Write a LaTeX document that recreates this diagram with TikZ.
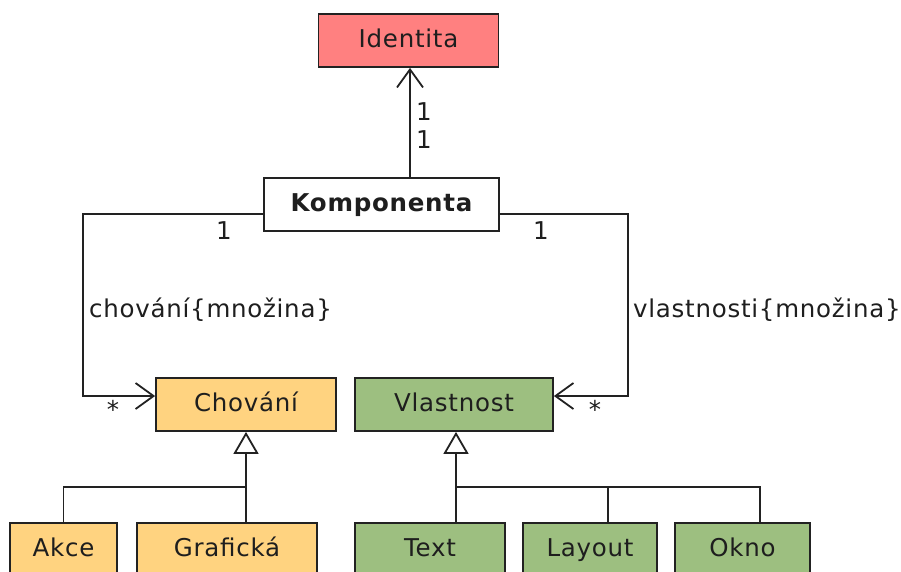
\documentclass[tikz,border=0pt]{standalone}
\usepackage{fontspec}
\setmainfont{DejaVu Sans}[LetterSpace=3]
\usetikzlibrary{arrows.meta}
\definecolor{identred}{RGB}{255,128,128}
\definecolor{chovorange}{RGB}{255,211,128}
\definecolor{vlgreen}{RGB}{157,191,128}
\definecolor{lineclr}{RGB}{34,34,34}
\definecolor{txtclr}{RGB}{30,30,30}
\tikzset{
  box/.style={draw=lineclr, line width=1.8pt, rectangle, inner sep=0pt, minimum height=53pt, text height=20pt, text depth=7pt, text=txtclr, font=\fontsize{24.5}{28}\selectfont},
  lbl/.style={inner sep=0pt, text=txtclr, font=\fontsize{24.5}{28}\selectfont},
  conn/.style={draw=lineclr, line width=1.8pt},
  assoc/.style={conn, -{Straight Barb[length=18pt, width=26pt, line width=1.8pt]}},
  gen/.style={conn, -{Triangle[open, length=22pt, width=25pt, fill=white, line width=1.8pt]}}
}
\begin{document}
\begin{tikzpicture}[x=1pt,y=-1pt]
\useasboundingbox[fill=white] (0,0) rectangle (901,571);
% classes
\node[box, fill=identred, minimum width=180pt] (identita) at (408.5,40.5) {Identita};
\node[box, fill=white, minimum width=235pt, font=\fontsize{24.5}{28}\selectfont\bfseries] (komp) at (381.5,204.5) {Komponenta};
\node[box, fill=chovorange, minimum width=180pt] (chovani) at (246,404.5) {Chování};
\node[box, fill=vlgreen, minimum width=198pt] (vlastnost) at (454,404.5) {Vlastnost};
\node[box, fill=chovorange, minimum width=107pt] (akce) at (63.5,549.5) {Akce};
\node[box, fill=chovorange, minimum width=180pt] (graficka) at (227,549.5) {Grafická};
\node[box, fill=vlgreen, minimum width=150pt] (text) at (430,549.5) {Text};
\node[box, fill=vlgreen, minimum width=134pt] (layout) at (590,549.5) {Layout};
\node[box, fill=vlgreen, minimum width=135pt] (okno) at (742.5,549.5) {Okno};
% Komponenta -> Identita
\draw[assoc] ([xshift=28.5pt]komp.north) -- ([xshift=28.5pt]komp.north |- identita.south);
\node[lbl] (m1) at (424,112) {1};
\node[lbl] (m2) at (424,140) {1};
% Komponenta -> Chovani
\coordinate (lc) at (83,214);
\draw[assoc] ([yshift=-9.5pt]komp.west) -- (lc) |- ([yshift=8.5pt]chovani.west);
\node[lbl] (l1) at (224,231) {1};
\node[lbl] (lstar) at (113,409) {*};
\node[lbl, anchor=west] (lname) at (89,310) {chování\{množina\}};
% Komponenta -> Vlastnost
\coordinate (rc) at (628,214);
\draw[assoc] ([yshift=-9.5pt]komp.east) -- (rc) |- ([yshift=8.5pt]vlastnost.east);
\node[lbl] (r1) at (541,231) {1};
\node[lbl] (rstar) at (595,409) {*};
\node[lbl, anchor=west] (rname) at (633,310) {vlastnosti\{množina\}};
% generalization Chovani
\coordinate (bch) at (246,487);
\draw[conn] (akce.north) |- (bch);
\draw[conn] (graficka.north -| bch) -- (bch);
\draw[gen] (bch) -- (chovani.south);
% generalization Vlastnost
\coordinate (bvl) at (456,487);
\draw[conn] ([xshift=17.5pt]okno.north) |- (bvl);
\draw[conn] ([xshift=18pt]layout.north) -- ([xshift=18pt]layout.north |- bvl);
\draw[conn] (text.north -| bvl) -- (bvl);
\draw[gen] (bvl) -- (bvl |- vlastnost.south);
\end{tikzpicture}
\end{document}
